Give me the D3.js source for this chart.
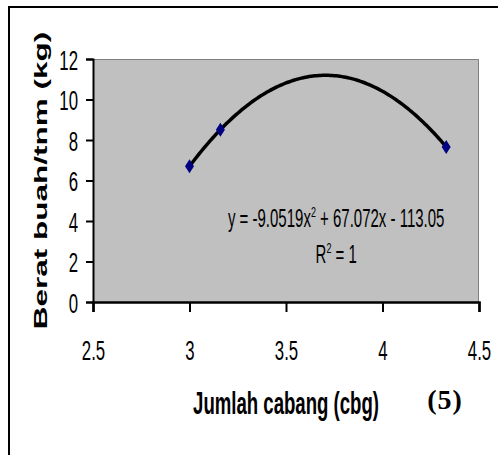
<!DOCTYPE html>
<html>
<head>
<meta charset="utf-8">
<script src="https://cdn.jsdelivr.net/npm/d3@7"></script>
<style>
  body { margin: 0; background: #fff; }
  svg { display: block; }
</style>
</head>
<body>
<div id="chart"></div>
<script>
// points
const cabang = [3, 3.16, 4.33];
const berat = [6.7, 8.51, 7.66];
// polynomial trendline (a x^2 + b x + c), as printed on the chart
const coef = [-9.0519, 67.072, -113.05];
const rSquared = 1;
const xTicks = [2.5, 3, 3.5, 4, 4.5];
const yTicks = [0, 2, 4, 6, 8, 10, 12];

(() => {
  const width = 498;
  const height = 455;
  const margin = { top: 59, right: 19, bottom: 153, left: 93 };
  const w = width - margin.left - margin.right;
  const h = height - margin.top - margin.bottom;
  const sx = 0.6; // text in the picture is squeezed sideways

  const svg = d3.select("#chart").append("svg")
    .attr("width", width)
    .attr("height", height);

  // outer frame (top + left only)
  svg.append("path")
    .attr("d", `M9,${height} V7 H${width}`)
    .attr("fill", "none").attr("stroke", "#000").attr("stroke-width", 2);

  const x = d3.scaleLinear().domain([2.5, 4.5]).range([0, w]);
  const y = d3.scaleLinear().domain([0, 12]).range([h, 0]);

  const g = svg.append("g").attr("transform", `translate(${margin.left},${margin.top})`);

  g.append("rect").attr("width", w).attr("height", h).attr("fill", "#c0c0c0");
  g.append("path")
    .attr("d", `M0,0.5 H${w - 0.5} V${h}`)
    .attr("fill", "none").attr("stroke", "#808080").attr("stroke-width", 1);

  const font = "'Liberation Sans', Arial, sans-serif";

  // y axis
  const yAxis = g.append("g")
    .call(d3.axisLeft(y).tickValues(yTicks).tickSize(7).tickFormat(d => d));
  yAxis.select(".domain").attr("stroke-width", 2);
  yAxis.selectAll(".tick line").attr("stroke-width", 2);
  yAxis.selectAll(".tick text")
    .attr("x", 0).attr("dy", "0.36em")
    .attr("transform", `translate(-15,0) scale(${sx},1)`)
    .attr("font-family", font).attr("font-size", 28).attr("fill", "#000");

  // x axis
  const xAxis = g.append("g")
    .attr("transform", `translate(0,${h})`)
    .call(d3.axisBottom(x).tickValues(xTicks).tickSize(10).tickFormat(d => d));
  xAxis.select(".domain").attr("stroke-width", 2.5);
  xAxis.selectAll(".tick line").attr("stroke-width", 2);
  xAxis.selectAll(".tick text")
    .attr("y", 58).attr("dy", 0)
    .attr("transform", `scale(${sx},1)`)
    .attr("font-family", font).attr("font-size", 28).attr("fill", "#000");
  g.selectAll(".domain").attr("stroke", "#000");

  // trendline
  const poly = v => coef[0] * v * v + coef[1] * v + coef[2];
  const xs = d3.range(d3.min(cabang), d3.max(cabang) + 0.001, 0.01);
  g.append("path")
    .datum(xs)
    .attr("fill", "none").attr("stroke", "#000").attr("stroke-width", 3.5)
    .attr("stroke-linejoin", "round")
    .attr("d", d3.line().x(d => x(d)).y(d => y(poly(d))));

  // diamond markers
  g.selectAll(".pt")
    .data(cabang.map((c, i) => [c, berat[i]]))
    .join("path")
    .attr("class", "pt")
    .attr("transform", d => `translate(${x(d[0])},${y(d[1])})`)
    .attr("d", "M0,-7 L4.5,0 L0,7 L-4.5,0 Z")
    .attr("fill", "#000080");

  // equation
  const fmt = v => (v < 0 ? " - " : " + ") + Math.abs(v);
  const eq = g.append("text")
    .attr("transform", `translate(${x(3.76)},${227 - margin.top}) scale(${sx},1)`)
    .attr("text-anchor", "middle")
    .attr("font-family", font).attr("font-size", 25).attr("fill", "#000");
  eq.append("tspan").text(`y = ${coef[0]}x`);
  eq.append("tspan").attr("dy", -10).attr("font-size", 15).text("2");
  eq.append("tspan").attr("dy", 10).text(`${fmt(coef[1])}x${fmt(coef[2])}`);

  const r2 = g.append("text")
    .attr("transform", `translate(${x(3.76)},${263 - margin.top}) scale(${sx},1)`)
    .attr("text-anchor", "middle")
    .attr("font-family", font).attr("font-size", 25).attr("fill", "#000");
  r2.append("tspan").text("R");
  r2.append("tspan").attr("dy", -10).attr("font-size", 15).text("2");
  r2.append("tspan").attr("dy", 10).text(` = ${rSquared}`);

  // axis titles
  svg.append("text")
    .attr("transform", `translate(${margin.left + w / 2},414) scale(${sx},1)`)
    .attr("text-anchor", "middle")
    .attr("font-family", font).attr("font-weight", "bold").attr("font-size", 31)
    .text("Jumlah cabang (cbg)");

  svg.append("text")
    .attr("transform", `translate(47,${margin.top + h / 2}) scale(${sx},1) rotate(-90)`)
    .attr("text-anchor", "middle")
    .attr("font-family", font).attr("font-weight", "bold").attr("font-size", 31.5)
    .text("Berat buah/tnm (kg)");

  svg.append("text")
    .attr("x", 445).attr("y", 409)
    .attr("text-anchor", "middle")
    .attr("font-family", "'Liberation Serif', 'Times New Roman', serif")
    .attr("font-weight", "bold").attr("font-size", 28).attr("letter-spacing", 1)
    .text("(5)");
})();
</script>
</body>
</html>
